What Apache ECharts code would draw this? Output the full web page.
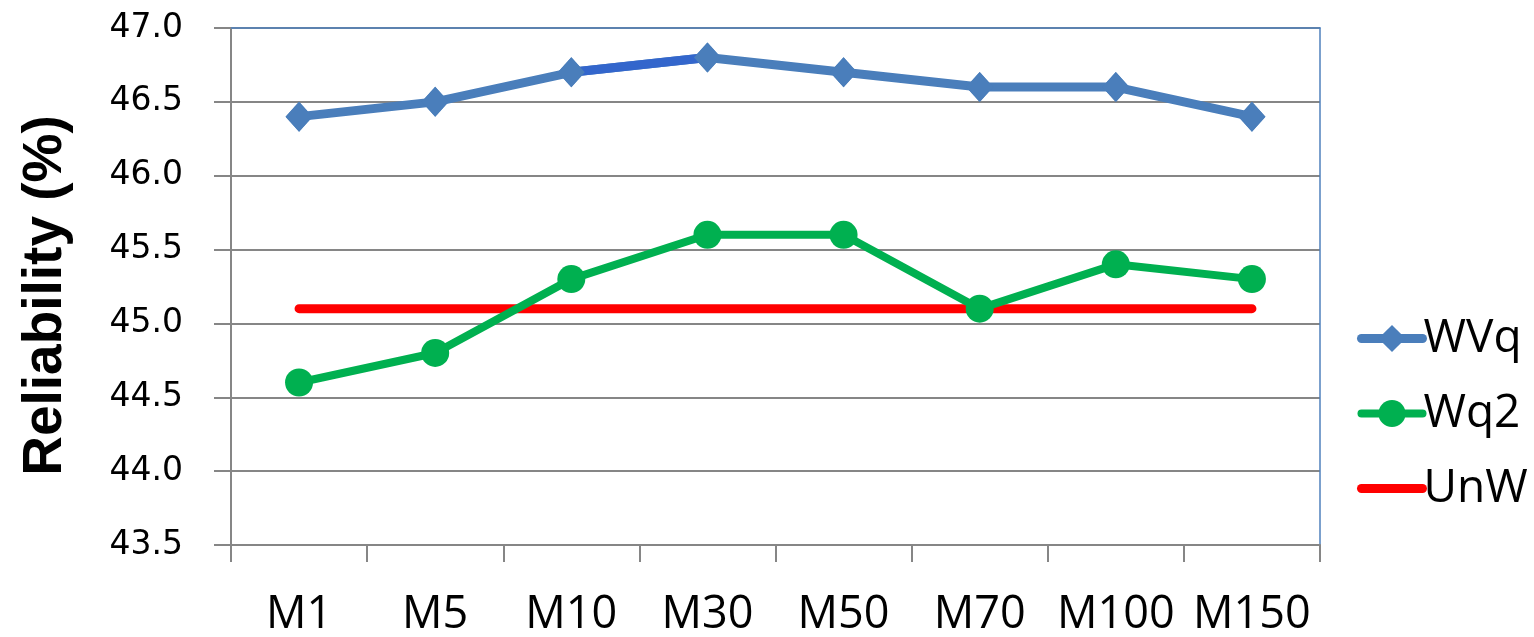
<!DOCTYPE html>
<html>
<head>
<meta charset="utf-8">
<script src="https://cdn.jsdelivr.net/npm/echarts@6/dist/echarts.min.js"></script>
<style>
html,body{margin:0;padding:0;background:#fff;}
#chart{width:1534px;height:637px;}
</style>
</head>
<body>
<div id="chart"></div>
<script>
var categories = ['M1','M5','M10','M30','M50','M70','M100','M150'];
var wvq = [46.4, 46.5, 46.7, 46.8, 46.7, 46.6, 46.6, 46.4];
var wq2 = [44.6, 44.8, 45.3, 45.6, 45.6, 45.1, 45.4, 45.3];
var unw = [45.1, 45.1, 45.1, 45.1, 45.1, 45.1, 45.1, 45.1];
var yTicks = {min: 43.5, max: 47.0, interval: 0.5};
var yTitle = 'Reliability (%)';

// darker segment of WVq between M10 and M30
var wvqSeg = wvq.map(function (v, i) { return (i === 2 || i === 3) ? v : null; });

var gridColor = '#868686';
var chart = echarts.init(document.getElementById('chart'), null, {renderer: 'canvas'});
chart.setOption({
  animation: false,
  backgroundColor: '#ffffff',
  grid: {left: 231, right: 214, top: 28, bottom: 92, containLabel: false, outerBoundsMode: 'none'},
  legend: {
    orient: 'vertical',
    left: 1357,
    top: 313,
    padding: 0,
    itemWidth: 61,
    itemHeight: 34,
    itemGap: 24,
    data: ['WVq', 'Wq2', {name: 'UnW', itemStyle: {opacity: 0}}],
    lineStyle: {width: 'inherit', cap: 'round'},
    textStyle: {fontFamily: 'Open Sans', fontSize: 46, color: '#000', lineHeight: 51, padding: [0, 0, 0, -4]}
  },
  xAxis: [{
    type: 'category',
    data: categories,
    boundaryGap: true,
    axisLine: {lineStyle: {color: gridColor, width: 2}},
    axisTick: {show: true, length: 17, inside: false, lineStyle: {color: gridColor, width: 2}},
    axisLabel: {fontFamily: 'Open Sans', fontSize: 45, color: '#000', margin: 48, interval: 0},
    splitLine: {show: false}
  }, {
    type: 'category',
    data: categories,
    position: 'top',
    boundaryGap: true,
    axisLine: {lineStyle: {color: '#4F81BD', width: 1.5}},
    axisTick: {show: false},
    axisLabel: {show: false},
    splitLine: {show: false}
  }],
  yAxis: [{
    type: 'value',
    min: yTicks.min,
    max: yTicks.max,
    interval: yTicks.interval,
    name: yTitle,
    nameLocation: 'middle',
    nameRotate: 90,
    nameGap: 158,
    nameTextStyle: {fontFamily: 'Liberation Sans', fontWeight: 'bold', fontSize: 55, color: '#000', padding: [0, 18, 0, 0]},
    axisLine: {show: true, lineStyle: {color: gridColor, width: 2}},
    axisTick: {show: true, length: 17, inside: false, lineStyle: {color: gridColor, width: 2}},
    axisLabel: {fontFamily: 'DejaVu Sans', fontSize: 33, color: '#000', margin: 48,
      formatter: function (v) { return v.toFixed(1); }},
    splitLine: {show: true, lineStyle: {color: gridColor, width: 2}}
  }, {
    type: 'value',
    position: 'right',
    min: yTicks.min,
    max: yTicks.max,
    interval: yTicks.interval,
    axisLine: {show: true, lineStyle: {color: '#4F81BD', width: 1.5}},
    axisTick: {show: false},
    axisLabel: {show: false},
    splitLine: {show: false}
  }],
  series: [{
    name: 'UnW',
    type: 'line',
    data: unw,
    symbol: 'none',
    lineStyle: {color: '#FF0000', width: 9, cap: 'round'},
    itemStyle: {color: '#FF0000'},
    z: 2
  }, {
    name: 'Wq2',
    type: 'line',
    data: wq2,
    symbol: 'circle',
    symbolSize: 28,
    lineStyle: {color: '#00B050', width: 8, cap: 'round'},
    itemStyle: {color: '#00B050'},
    z: 3
  }, {
    name: 'WVq',
    type: 'line',
    data: wvq,
    symbol: 'diamond',
    symbolSize: [27, 30],
    lineStyle: {color: '#4A7EBB', width: 9, cap: 'round'},
    itemStyle: {color: '#4A7EBB'},
    z: 4
  }, {
    name: 'WVq-seg',
    type: 'line',
    data: wvqSeg,
    symbol: 'none',
    lineStyle: {color: '#3366CC', width: 9},
    itemStyle: {color: '#3366CC'},
    z: 5
  }, {
    name: 'WVq-pts',
    type: 'line',
    data: wvq,
    symbol: 'diamond',
    symbolSize: [27, 30],
    lineStyle: {width: 0, opacity: 0},
    itemStyle: {color: '#4A7EBB'},
    z: 6
  }]
});
</script>
</body>
</html>
